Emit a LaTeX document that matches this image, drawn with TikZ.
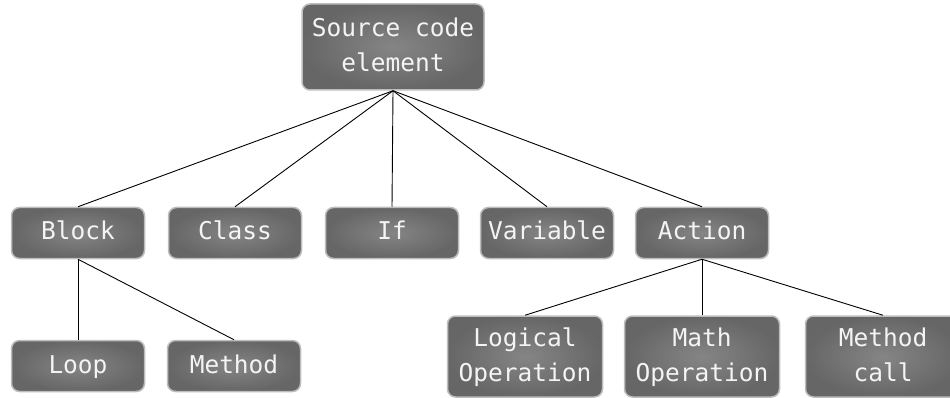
\documentclass[tikz,border=0pt]{standalone}
\usepackage{fontspec}
\setmonofont{DejaVu Sans Mono}
\definecolor{boxin}{HTML}{858585}
\definecolor{boxout}{HTML}{666666}
\definecolor{boxline}{HTML}{BDBDBD}
\definecolor{boxtext}{HTML}{F4F4F4}
\newcommand{\boxtxt}[1]{\raisebox{6pt}{\begin{tabular}{@{}c@{}}#1\end{tabular}}}
\tikzset{
  box/.style={draw=boxline, line width=1.5pt, rounded corners=8pt,
    inner color=boxin, outer color=boxout, text=boxtext,
    font=\ttfamily\fontsize{24.5}{35}\selectfont,
    inner sep=0pt, minimum height=51pt, minimum width=133pt},
  tall/.style={minimum height=81pt, minimum width=155pt},
  link/.style={draw=black, line width=0.9pt}
}
\begin{document}
\begin{tikzpicture}[x=1pt,y=-1pt]
\useasboundingbox (0,0) rectangle (950,398);
\clip (0,0) rectangle (950,398);
\node[box, minimum width=182pt, minimum height=86pt] (src) at (393,47) {\boxtxt{Source code\\element}};
\node[box] (block) at (78,233) {\boxtxt{Block}};
\node[box] (class) at (235,233) {\boxtxt{Class}};
\node[box] (if) at (392,233) {\boxtxt{If}};
\node[box] (var) at (547,233) {\boxtxt{Variable}};
\node[box] (action) at (702,233) {\boxtxt{Action}};
\node[box] (loop) at (78,366) {\boxtxt{Loop}};
\node[box] (method) at (234,366) {\boxtxt{Method}};
\node[box, tall] (logic) at (525,356.5) {\boxtxt{Logical\\Operation}};
\node[box, tall] (math) at (702,356.5) {\boxtxt{Math\\Operation}};
\node[box, tall] (call) at (883,356.5) {\boxtxt{Method\\call}};
\foreach \n in {block,class,if,var,action} \draw[link] (src.south) -- (\n.north);
\foreach \n in {loop,method} \draw[link] (block.south) -- (\n.north);
\foreach \n in {logic,math,call} \draw[link] (action.south) -- (\n.north);
\end{tikzpicture}
\end{document}
